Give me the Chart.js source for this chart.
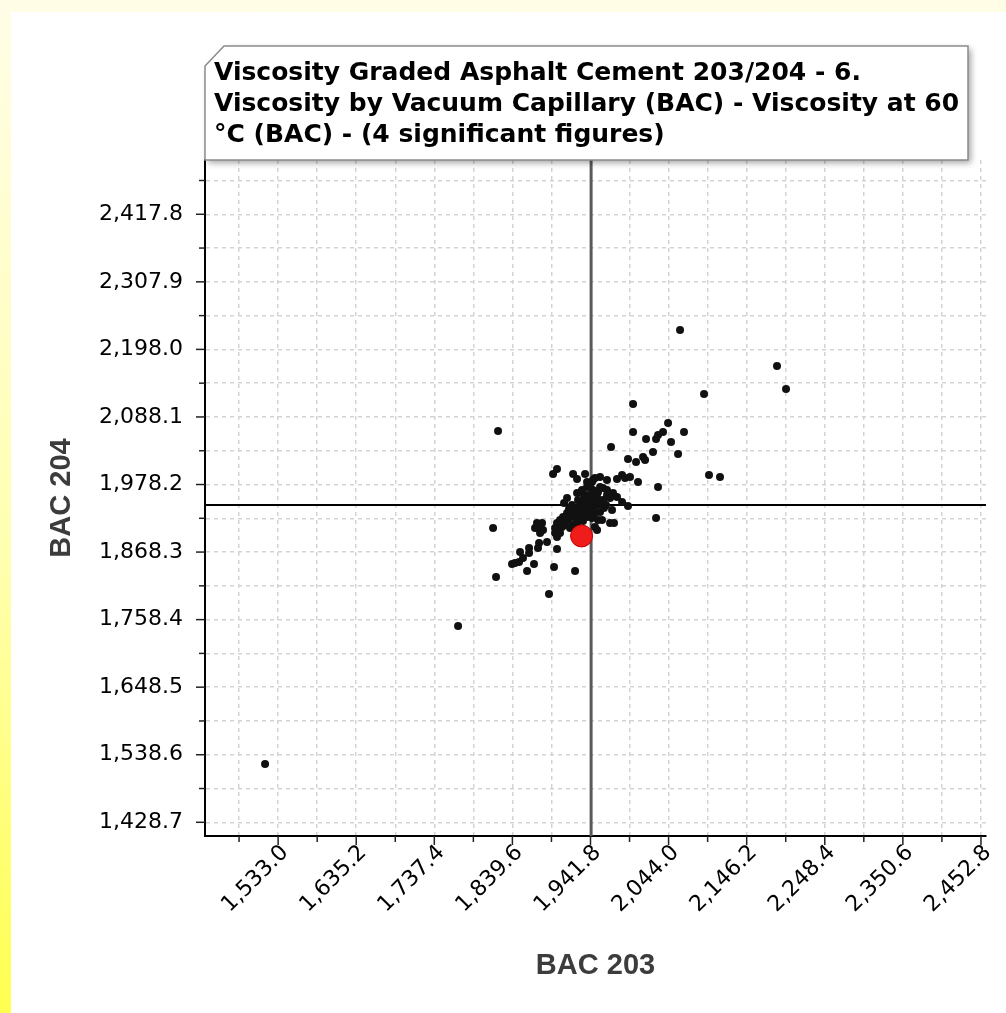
<!DOCTYPE html>
<html>
<head>
<meta charset="utf-8">
<script src="https://cdn.jsdelivr.net/npm/chart.js@4.4.1/dist/chart.umd.min.js"></script>
<style>
  html, body { margin: 0; padding: 0; }
  body {
    width: 1006px; height: 1013px; position: relative; overflow: hidden;
    background: linear-gradient(to bottom, #fffde6 0%, #ffffb0 55%, #ffff50 100%);
  }
  #panel { position: absolute; left: 11px; top: 12px; right: 0; bottom: 0; background: #fff; }
  #chart { position: absolute; left: 0; top: 0; }
</style>
</head>
<body>
<div id="panel"></div>
<canvas id="chart" width="1006" height="1013"></canvas>
<script>
const titleLines = [
  'Viscosity Graded Asphalt Cement 203/204 - 6.',
  'Viscosity by Vacuum Capillary (BAC) - Viscosity at 60',
  '°C (BAC) - (4 significant figures)',
];
const xAxisTitle = 'BAC 203';
const yAxisTitle = 'BAC 204';

const xTickLabels = [1533.0, 1635.2, 1737.4, 1839.6, 1941.8, 2044.0, 2146.2, 2248.4, 2350.6, 2452.8];
const yTickLabels = [1428.7, 1538.6, 1648.5, 1758.4, 1868.3, 1978.2, 2088.1, 2198.0, 2307.9, 2417.8];
const xRange = [1437.3, 2459.4];
const yRange = [1406.4, 2506.1];

// all participating labs
const bac203 = [
  1515.9, 1768.5, 1820.8, 2059.0, 2185.9, 2197.7, 2090.4, 2096.9, 2111.3, 1997.5,
  1997.5, 2043.3, 2064.2, 2036.7, 2030.2, 2027.6, 2014.5, 2047.2, 1968.7, 2023.6,
  2056.4, 1990.9, 2001.4, 2010.6, 2013.2, 2030.2, 2027.6, 1983.1, 1987.0, 1993.5,
  1976.5, 2004.0, 1954.3, 1945.1, 1934.7, 1943.8, 1963.4, 1954.3, 1963.4, 1971.3,
  1976.5, 1990.9, 1956.9, 1967.4, 1972.6, 1950.4, 1892.8, 1898.0, 1919.0, 1924.2,
  1924.2, 1911.1, 1907.2, 1937.3, 1945.1, 1950.4, 1958.2, 1932.0, 1928.1, 1937.3,
  1941.2, 1932.0, 1924.2, 1928.1, 1937.3, 1919.0, 1911.1, 1912.4, 1905.9, 1901.9,
  1898.0, 1895.4, 1899.3, 1898.0, 1904.6, 1919.0, 1924.2, 1915.0, 1945.1, 1950.4,
  1954.3, 1947.7, 1951.7, 1871.8, 1873.1, 1869.2, 1875.8, 1884.9, 1874.5, 1873.1,
  1898.0, 1861.4, 1861.4, 1849.6, 1848.3, 1839.1, 1843.0, 1853.5, 1867.9, 1858.8,
  1894.1, 1921.6, 1818.2, 1814.3, 1887.5, 1908.5, 1917.6, 1921.6, 1928.1, 1933.3,
  1941.2, 1938.6, 1946.4, 1933.3, 1943.8, 1962.1, 1970.0, 1983.1, 1963.4, 1967.4,
  1947.7, 1937.3, 1941.2, 1958.2, 1951.7, 1878.4, 1879.7, 1895.4, 1947.7, 1908.5,
  1901.9, 1930.7, 1938.6, 1947.7, 1925.5, 1917.6, 1936.0, 1943.8, 1954.3, 1959.5,
  1932.0, 1913.7,
];
const bac204 = [
  1523.6, 1748.1, 2065.3, 2229.6, 2171.0, 2133.6, 2125.5, 1993.7, 1990.5, 2109.2,
  2063.7, 2078.3, 2063.7, 2063.7, 2058.8, 2052.3, 2052.3, 2047.4, 2039.3, 2031.1,
  2027.9, 2019.7, 2014.9, 2023.0, 2018.1, 1974.2, 1923.8, 1993.7, 1988.8, 1990.5,
  1987.2, 1982.3, 1990.5, 1985.6, 1995.3, 1982.3, 1985.6, 1974.2, 1969.3, 1964.4,
  1957.9, 1943.3, 1920.5, 1915.6, 1915.6, 1904.2, 1995.3, 2003.5, 1995.3, 1987.2,
  1964.4, 1956.3, 1948.2, 1974.2, 1969.3, 1957.9, 1953.0, 1953.0, 1941.6, 1936.8,
  1931.9, 1931.9, 1933.5, 1925.4, 1925.4, 1925.4, 1931.9, 1920.5, 1925.4, 1920.5,
  1915.6, 1907.5, 1901.0, 1892.8, 1909.1, 1912.4, 1915.6, 1907.5, 1940.0, 1944.9,
  1948.2, 1931.9, 1920.5, 1915.6, 1907.5, 1907.5, 1899.3, 1884.7, 1883.1, 1874.9,
  1873.3, 1874.9, 1866.8, 1868.4, 1852.2, 1848.9, 1850.5, 1858.7, 1848.9, 1837.5,
  1844.0, 1837.5, 1827.8, 1907.5, 1800.1, 1923.8, 1933.5, 1938.4, 1944.9, 1961.2,
  1956.3, 1948.2, 1951.4, 1943.3, 1933.5, 1944.9, 1936.8, 1949.8, 1961.2, 1956.3,
  1988.8, 1982.3, 1974.2, 1972.6, 1966.0, 1915.6, 1904.2, 1899.3, 1909.1, 1912.4,
  1899.3, 1969.3, 1961.2, 1964.4, 1953.0, 1944.9, 1928.6, 1923.8, 1933.5, 1940.0,
  1918.9, 1938.4,
];

// this lab
const labBac203 = [1930.1];
const labBac204 = [1894.5];

// crosshair (average)
const meanBac203 = 1942.6;
const meanBac204 = 1944.9;

const fmt = (v) => v.toLocaleString('en-US', { minimumFractionDigits: 1, maximumFractionDigits: 1 });

const withMinor = (majors, min, max) => {
  const half = (majors[1] - majors[0]) / 2;
  const out = [];
  majors.forEach((v) => {
    out.push({ value: v - half, major: false });
    out.push({ value: v, major: true });
  });
  out.push({ value: majors[majors.length - 1] + half, major: false });
  return out.filter((t) => t.value > min && t.value < max);
};

const tickMarks = {
  id: 'tickMarks',
  afterDraw(chart) {
    const { ctx, chartArea: area, scales: { x, y } } = chart;
    ctx.save();
    ctx.strokeStyle = '#222';
    ctx.lineWidth = 1.5;
    x.ticks.forEach((t) => {
      const px = x.getPixelForValue(t.value);
      ctx.beginPath();
      ctx.moveTo(px, area.bottom);
      ctx.lineTo(px, area.bottom + (t.major ? 9 : 6));
      ctx.stroke();
    });
    y.ticks.forEach((t) => {
      const py = y.getPixelForValue(t.value);
      ctx.beginPath();
      ctx.moveTo(area.left, py);
      ctx.lineTo(area.left - (t.major ? 9 : 6), py);
      ctx.stroke();
    });
    ctx.restore();
  },
};

const crosshair = {
  id: 'crosshair',
  beforeDatasetsDraw(chart) {
    const { ctx, chartArea: area, scales: { x, y } } = chart;
    const px = x.getPixelForValue(meanBac203);
    const py = y.getPixelForValue(meanBac204);
    ctx.save();
    ctx.strokeStyle = '#5a5a5a';
    ctx.lineWidth = 3;
    ctx.beginPath();
    ctx.moveTo(px, area.top);
    ctx.lineTo(px, area.bottom);
    ctx.stroke();
    ctx.strokeStyle = '#000';
    ctx.lineWidth = 2;
    ctx.beginPath();
    ctx.moveTo(area.left, py);
    ctx.lineTo(area.right, py);
    ctx.stroke();
    ctx.restore();
  },
};

const titleBox = {
  id: 'titleBox',
  afterDraw(chart) {
    const { ctx } = chart;
    const l = 205, t = 46, r = 968, b = 160;
    ctx.save();
    ctx.beginPath();
    ctx.moveTo(l + 19, t);
    ctx.lineTo(r, t);
    ctx.lineTo(r, b);
    ctx.lineTo(l, b);
    ctx.lineTo(l, t + 20);
    ctx.closePath();
    ctx.shadowColor = 'rgba(0,0,0,0.35)';
    ctx.shadowBlur = 6;
    ctx.shadowOffsetX = 3;
    ctx.shadowOffsetY = 3;
    ctx.fillStyle = '#fff';
    ctx.fill();
    ctx.shadowColor = 'transparent';
    ctx.strokeStyle = '#8a8a8a';
    ctx.lineWidth = 1.5;
    ctx.stroke();
    ctx.fillStyle = '#000';
    ctx.font = 'bold 25px "DejaVu Sans"';
    ctx.textBaseline = 'alphabetic';
    titleLines.forEach((line, i) => ctx.fillText(line, 214, 80 + i * 31));
    ctx.restore();
  },
};

const tickFont = { family: 'DejaVu Sans', size: 22 };
const axisTitleFont = { family: '"Liberation Sans Narrow", "Liberation Sans"', size: 29, weight: 'bold' };

const ctx = document.getElementById('chart').getContext('2d');
const chart = new Chart(ctx, {
  type: 'scatter',
  data: {
    datasets: [
      {
        label: 'This lab',
        data: labBac203.map((v, i) => ({ x: v, y: labBac204[i] })),
        pointRadius: 11,
        backgroundColor: '#f01c1c',
        borderColor: '#c40000',
        borderWidth: 1,
        order: 0,
      },
      {
        label: 'Labs',
        data: bac203.map((v, i) => ({ x: v, y: bac204[i] })),
        pointRadius: 4,
        backgroundColor: '#111111',
        borderWidth: 0,
        order: 1,
      },
    ],
  },
  options: {
    responsive: false,
    animation: false,
    layout: { padding: { left: 0, top: 160, right: 20, bottom: 0 } },
    plugins: { legend: { display: false }, tooltip: { enabled: false } },
    scales: {
      x: {
        type: 'linear',
        position: 'bottom',
        min: xRange[0],
        max: xRange[1],
        afterBuildTicks: (s) => { s.ticks = withMinor(xTickLabels, xRange[0], xRange[1]); },
        afterFit: (s) => { s.height = 177; s.paddingLeft = 0; s.paddingRight = 0; },
        ticks: {
          autoSkip: false,
          minRotation: 45,
          maxRotation: 45,
          padding: 4,
          labelOffset: 7,
          color: '#000',
          font: tickFont,
          callback: (v, i, ticks) => (ticks[i].major ? fmt(v) : ''),
        },
        grid: { color: '#d4d4d4', lineWidth: 1.5, drawTicks: false },
        border: { color: '#000', width: 2, dash: [4, 4] },
        title: { display: true, text: xAxisTitle, color: '#3c3c3c', font: axisTitleFont, padding: { top: 0, bottom: 30 } },
      },
      y: {
        type: 'linear',
        min: yRange[0],
        max: yRange[1],
        afterBuildTicks: (s) => { s.ticks = withMinor(yTickLabels, yRange[0], yRange[1]); },
        afterFit: (s) => { s.width = 205; s.paddingTop = 0; s.paddingBottom = 0; },
        ticks: {
          autoSkip: false,
          padding: 22,
          color: '#000',
          font: tickFont,
          callback: (v, i, ticks) => (ticks[i].major ? fmt(v) : ''),
        },
        grid: { color: '#d4d4d4', lineWidth: 1.5, drawTicks: false },
        border: { color: '#000', width: 2, dash: [4, 4] },
        title: { display: true, text: yAxisTitle, color: '#3c3c3c', font: axisTitleFont, padding: { top: 45, bottom: 0 } },
      },
    },
  },
  plugins: [crosshair, tickMarks, titleBox],
});
</script>
</body>
</html>
